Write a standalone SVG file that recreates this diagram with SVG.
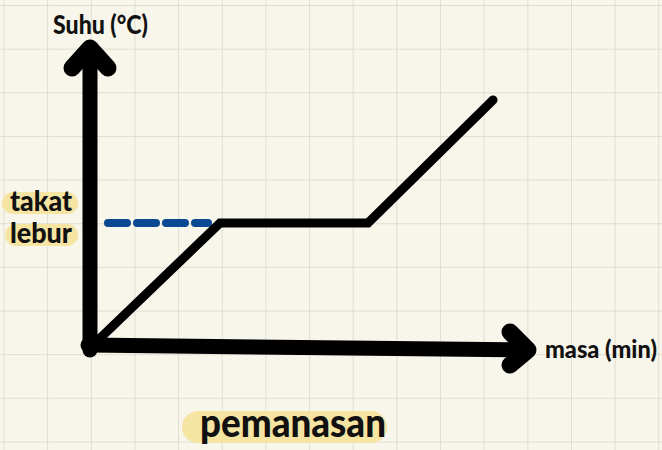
<svg xmlns="http://www.w3.org/2000/svg" width="662" height="450" viewBox="0 0 662 450">
<defs>
<pattern id="grid" x="3.5" y="5" width="43.65" height="43.65" patternUnits="userSpaceOnUse">
<path d="M0 0 H43.65 M0 0 V43.65" fill="none" stroke="#d8d6cb" stroke-width="1.5"/>
</pattern>
</defs>
<style>
.lbl{font-family:"Lato","Noto Sans",sans-serif;font-weight:900;fill:#111}
.hl{fill:#f6e4a2}
.axis{stroke:#000;stroke-width:15;stroke-linecap:round;stroke-linejoin:round;fill:none}
.head{stroke:#000;stroke-width:17;stroke-linecap:round;stroke-linejoin:round;fill:none}
.graph{stroke:#000;stroke-width:9;stroke-linecap:round;stroke-linejoin:miter;fill:none}
.dash{stroke:#0b4894;stroke-width:8;stroke-linecap:round;stroke-dasharray:19 10;fill:none}
</style>
<rect width="662" height="450" fill="#f8f6ea"/>
<rect width="662" height="450" fill="url(#grid)"/>
<g id="connectors">
<path class="dash" d="M108 223 H208"/>
<path class="graph" d="M93 345 L220 223 H368 L493 100"/>
<path id="y-axis" class="axis" d="M90 350 V48"/>
<path class="head" d="M72 68 L90 48 L108 68"/>
<path id="x-axis" class="axis" d="M88 345 L528 350"/>
<path class="head" d="M510 332 L528 350 L510 365"/>
</g>
<g id="y-label"><text class="lbl" x="53" y="34" font-size="26" textLength="95" lengthAdjust="spacingAndGlyphs">Suhu (°C)</text></g>
<g id="x-label"><text class="lbl" x="545" y="358" font-size="24" textLength="112" lengthAdjust="spacingAndGlyphs">masa (min)</text></g>
<g id="takat-lebur">
<rect class="hl" x="2" y="192" width="76" height="22" rx="11"/>
<rect class="hl" x="5" y="224" width="73" height="22" rx="11"/>
<text class="lbl" x="10" y="211" font-size="28" textLength="62" lengthAdjust="spacingAndGlyphs">takat</text>
<text class="lbl" x="10" y="243" font-size="28" textLength="62" lengthAdjust="spacingAndGlyphs">lebur</text>
</g>
<g id="title">
<rect class="hl" x="182" y="411" width="205" height="32" rx="16"/>
<text class="lbl" x="200" y="437" font-size="40" textLength="186" lengthAdjust="spacingAndGlyphs">pemanasan</text>
</g>
</svg>
